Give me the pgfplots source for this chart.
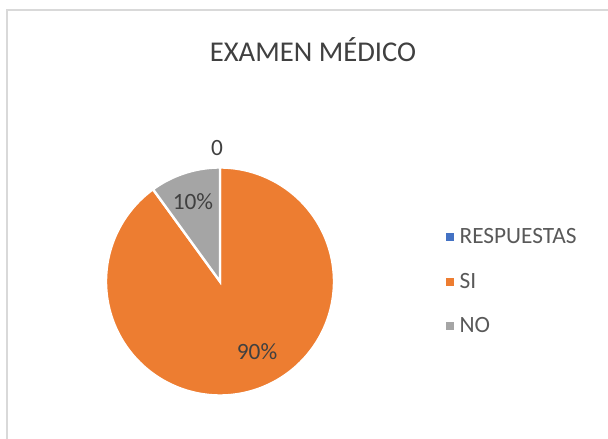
\documentclass[border=0pt]{standalone}
\usepackage{fontspec}
\setmainfont{Carlito}
\usepackage{pgfplots}
\usepackage{pgfplotstable}
\pgfplotsset{compat=1.18}
\definecolor{pieblue}{HTML}{4472C4}
\definecolor{pieorange}{HTML}{ED7D31}
\definecolor{piegray}{HTML}{A5A5A5}
\definecolor{txt}{HTML}{404040}
\definecolor{legtxt}{HTML}{595959}
\definecolor{frame}{HTML}{D9D9D9}
\pgfplotstableread{
label value
RESPUESTAS 0
SI 90
NO 10
}\piedata
\begin{document}
\begin{tikzpicture}[x=0.75pt,y=0.75pt]
\useasboundingbox (0,0) rectangle (608,439);
\draw[frame, line width=1.5pt] (7,429) rectangle (640,-40);
\node[txt, font=\fontsize{21.5}{24}\selectfont] at (313,389) {EXAMEN MÉDICO};
\pgfplotstablegetelem{1}{value}\of\piedata \let\vSI\pgfplotsretval
\pgfplotstablegetelem{2}{value}\of\piedata \let\vNO\pgfplotsretval
\pgfmathsetmacro{\aA}{90}
\pgfmathsetmacro{\aB}{90+3.6*\vNO}
\pgfmathsetmacro{\aC}{\aB+3.6*\vSI}
\begin{axis}[
  at={(220pt*0.75,157.5pt*0.75)}, anchor=center,
  scale only axis, width=171pt, height=171pt,
  xmin=-1, xmax=1, ymin=-1, ymax=1,
  hide axis, clip=false,
  legend cell align=left,
  legend style={at={(1.49,0.5)}, anchor=west, draw=none, fill=none,
    font=\fontsize{17.5}{20}\selectfont, text=legtxt,
    row sep=16.5pt, inner sep=0pt},
  legend image code/.code={\fill[#1] (0pt,-2.6pt) rectangle (5.2pt,2.6pt); \path[draw=none,fill=none] (8pt,0pt);},
]
\addlegendimage{pieblue}
\addlegendentry{RESPUESTAS}
\addlegendimage{pieorange}
\addlegendentry{SI}
\addlegendimage{piegray}
\addlegendentry{NO}
\addplot[fill=pieorange, draw=white, line width=1.8pt, domain=\aB:\aC, samples=200, variable=\t, forget plot]
  ({cos(\t)},{sin(\t)}) -- (0,0) -- cycle;
\addplot[fill=piegray, draw=white, line width=1.8pt, domain=\aA:\aB, samples=40, variable=\t, forget plot]
  ({cos(\t)},{sin(\t)}) -- (0,0) -- cycle;
\node[txt, font=\fontsize{17.5}{20}\selectfont] at (-0.026,1.171) {0};
\node[txt, font=\fontsize{17.5}{20}\selectfont] at (-0.237,0.697) {10\%};
\node[txt, font=\fontsize{17.5}{20}\selectfont] at (0.325,-0.618) {90\%};
\end{axis}
\end{tikzpicture}
\end{document}
